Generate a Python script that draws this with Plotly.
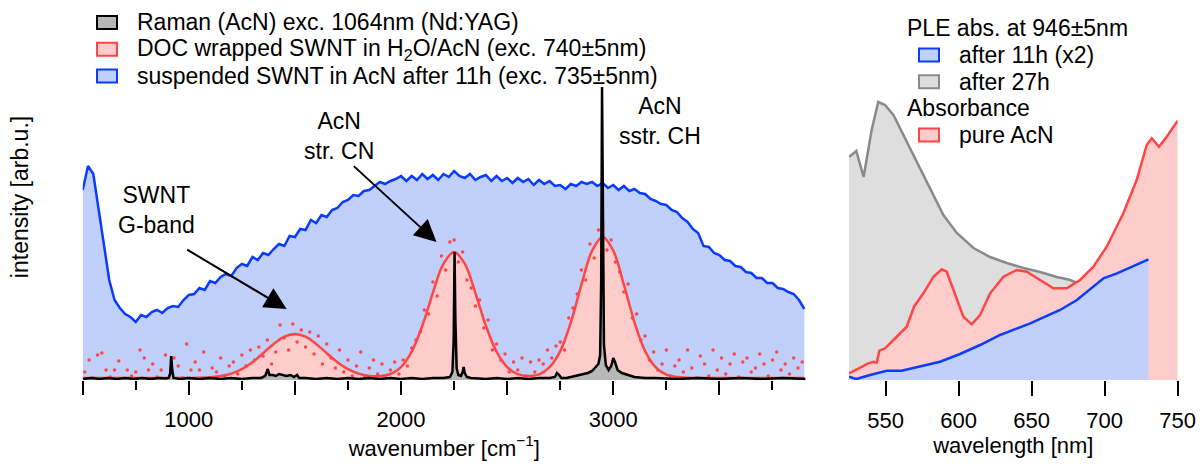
import numpy as np
import plotly.graph_objects as go

# ---------------- left panel: Raman / PL vs wavenumber ----------------
# suspended SWNT in AcN after 11h (exc. 735 nm), 25 cm-1 grid
sus_wn = np.arange(500, 3901, 25)
sus_int = [190, 214, 206, 170, 135, 100, 80, 72, 66, 63, 58, 65, 63, 68, 70, 67, 72, 74, 73, 80,
           85, 86, 92, 90, 99, 97, 103, 106, 104, 112, 116, 114, 123, 120, 127, 125, 131, 136, 134, 144,
           143, 151, 150, 160, 157, 165, 163, 170, 172, 178, 180, 185, 184, 189, 190, 194, 198, 196, 199, 201,
           204, 199, 204, 200, 206, 201, 205, 200, 206, 203, 209, 204, 202, 206, 200, 203, 205, 199, 204, 199,
           202, 197, 202, 198, 201, 195, 200, 196, 199, 194, 195, 191, 196, 194, 198, 196, 198, 194, 197, 192,
           195, 190, 194, 189, 191, 187, 186, 181, 179, 176, 175, 170, 168, 162, 158, 151, 147, 134, 133, 127,
           125, 120, 119, 114, 113, 108, 107, 102, 102, 97, 97, 92, 91, 88, 86, 80, 71]

# DOC wrapped SWNT in H2O/AcN (exc. 740 nm): fitted curve, 50 cm-1 grid
fit_wn = np.arange(500, 3901, 50)
fit_int = [2, 2, 2, 2, 2, 2, 2, 2, 2, 2,
           2, 2.3, 2.8, 3.9, 6.4, 10.9, 17.8, 26.8, 36.1, 43.3,
           46, 43.3, 36.1, 26.8, 17.8, 10.9, 6.4, 4.1, 3.8, 6.0,
           12.9, 28.3, 54.2, 87.2, 116.3, 128, 116.3, 87.2, 54.2, 28.3,
           12.9, 5.9, 3.9, 5.6, 12.9, 28.9, 57.7, 95.3, 129.2, 143,
           129.2, 95.3, 57.7, 28.9, 12.7, 5.4, 2.9, 2.2, 2, 2,
           2, 2, 2, 2, 2, 2, 2, 2, 2]

# raw points of the same measurement, 20 cm-1 grid
pts_wn = np.arange(510, 3891, 20)
pts_int = [8, 20, 2, 25, 27, 10, 3, 10, 19, 1,
           10, 4, 8, 30, 22, 10, 16, 3, 10, 25,
           5, 22, 14, 2, 36, 10, 18, 10, 28, 2,
           12, 8, 22, 4, 14, 18, 6, 25, 14, 30,
           20, 33, 24, 40, 16, 28, 55, 42, 30, 56,
           38, 50, 33, 48, 26, 44, 16, 36, 22, 12,
           30, 8, 20, 4, 14, 28, 3, 12, 20, 6,
           16, 2, 10, 18, 6, 20, 14, 32, 40, 48,
           70, 66, 98, 84, 124, 110, 138, 140, 118, 128,
           100, 92, 74, 80, 52, 60, 30, 36, 20, 26,
           8, 18, 10, 22, 4, 18, 8, 20, 16, 30,
           22, 34, 38, 30, 62, 72, 86, 110, 100, 136,
           122, 150, 156, 130, 140, 118, 108, 88, 96, 62,
           66, 40, 44, 20, 28, 10, 16, 30, 4, 14,
           20, 8, 30, 12, 2, 24, 16, 4, 30, 10,
           22, 6, 16, 26, 3, 18, 22, 8, 12, 26,
           16, 4, 20, 28, 10, 16, 6, 22, 12, 18]

# Raman (AcN) exc. 1064 nm
ram_wn = [500, 540, 580, 620, 660, 700, 740, 780, 820, 860, 890, 905, 912, 917, 922, 928, 960,
          1000, 1050, 1100, 1150, 1200, 1250, 1300, 1340, 1360, 1372, 1380, 1395, 1410, 1425, 1440,
          1460, 1480, 1495, 1510, 1520, 1550, 1600, 1650, 1700, 1750, 1800, 1850, 1900, 1950, 2000,
          2050, 2100, 2150, 2200, 2230, 2242, 2248, 2252, 2256, 2262, 2270, 2282, 2290, 2295, 2300,
          2310, 2330, 2400, 2450, 2500, 2550, 2600, 2650, 2700, 2725, 2735, 2745, 2755, 2780, 2800,
          2830, 2860, 2880, 2900, 2915, 2930, 2938, 2943, 2947, 2951, 2956, 2965, 2978, 2990, 3000,
          3008, 3020, 3040, 3070, 3100, 3150, 3200, 3300, 3400, 3500, 3600, 3700, 3800, 3905]
ram_int = [1, 2, 1, 2, 1, 2, 1, 2, 1, 2, 1.5, 2, 6, 24, 10, 2, 1,
           2, 1, 2, 1, 2, 1, 2, 2, 4, 11, 5, 5, 4, 6, 5,
           4, 5, 3, 5, 2, 2, 1, 2, 1, 2, 1, 2, 1, 2, 1,
           2, 1, 2, 2, 3, 8, 40, 128, 60, 12, 5, 4, 8, 13, 7,
           3, 2, 1, 2, 1, 2, 1, 2, 2, 3, 7, 5, 2, 2, 3,
           4, 6, 7, 9, 12, 16, 25, 100, 293, 120, 35, 15, 10, 14, 22,
           18, 10, 7, 5, 3, 2, 2, 1, 2, 1, 2, 1, 2, 1]

# ---------------- right panel: PLE / absorbance vs wavelength ----------------
ple27_wl = [525, 530, 535, 540.5, 545, 549.7, 555.4, 564.5, 575.9, 589.6, 598.8, 610.2, 621.6,
            633, 644.4, 655.8, 667.3, 676.4, 681, 690]
ple27_int = [223, 229, 203, 250, 278, 275, 265, 238, 205, 165, 147, 132, 123,
             117, 112, 108, 103, 100, 97, 94]

abs_wl = [525, 532.5, 538.2, 541.6, 544, 545.8, 549.7, 555.4, 564.5, 569.5, 575.9, 582.8, 588.5,
          591.9, 597.6, 603.3, 609, 614.7, 621.6, 630.7, 639.8, 646.7, 655.8, 664.9, 674, 683.2,
          692.3, 701.4, 712.8, 721.9, 728.8, 732.2, 737.2, 742.5, 750]
abs_int = [6.7, 12.7, 16.7, 18.3, 17.3, 29.3, 31.7, 40, 53.3, 73.3, 86.7, 103.3, 110.7,
           108.3, 86.7, 63.3, 55.7, 65, 86.7, 103.3, 110, 108.3, 100, 91.7, 91.7, 100,
           113.3, 133.3, 166.7, 200, 235, 241.7, 233.3, 243.3, 259.3]

ple11_wl = [525, 530, 539.4, 550.8, 561, 573.6, 587.3, 601, 614.7, 628.4, 649, 669.5, 681, 699.2,
            708.4, 730]
ple11_int = [3.3, 1, 5, 9.3, 9.3, 13.3, 18.3, 26, 35, 45, 56.7, 70, 80, 101.7, 106.7, 120.7]

BLUE, BLUE_F = "#0a3cff", "#c0d0fa"
RED, RED_F = "#ff4545", "#ffcccc"
GRAY, GRAY_F = "#8a8a8a", "#dedede"
BLACK, RAM_F = "#000000", "#b8b8b8"
FONT = "Liberation Sans, Arial, sans-serif"
W, H = 1200, 471

fig = go.Figure()

fig.add_trace(go.Scatter(x=sus_wn, y=sus_int, fill="tozeroy", fillcolor=BLUE_F,
                         line=dict(color=BLUE, width=2.5), mode="lines"))
fig.add_trace(go.Scatter(x=fit_wn, y=fit_int, fill="tozeroy", fillcolor=RED_F,
                         line=dict(color=RED, width=2.5, shape="spline"), mode="lines"))
fig.add_trace(go.Scatter(x=pts_wn, y=pts_int, mode="markers",
                         marker=dict(color=RED, size=3.5)))
fig.add_trace(go.Scatter(x=ram_wn, y=ram_int, fill="tozeroy", fillcolor=RAM_F,
                         line=dict(color=BLACK, width=2.5), mode="lines"))

fig.add_trace(go.Scatter(x=ple27_wl, y=ple27_int, fill="tozeroy", fillcolor=GRAY_F,
                         line=dict(color=GRAY, width=2.5), mode="lines", xaxis="x2", yaxis="y2"))
fig.add_trace(go.Scatter(x=abs_wl, y=abs_int, fill="tozeroy", fillcolor=RED_F,
                         line=dict(color=RED, width=2.5), mode="lines", xaxis="x2", yaxis="y2"))
fig.add_trace(go.Scatter(x=ple11_wl, y=ple11_int, fill="tozeroy", fillcolor=BLUE_F,
                         line=dict(color=BLUE, width=2.5), mode="lines", xaxis="x2", yaxis="y2"))


def px(x):
    return x / W


def py(y):
    return 1 - y / H


# hand-made legends (boxes + text), positions in pixels
legend_rows = [
    (97, 22.5, BLACK, RAM_F, "Raman (AcN) exc. 1064nm (Nd:YAG)"),
    (97, 49.3, RED, RED_F, "DOC wrapped SWNT in H<sub>2</sub>O/AcN (exc. 740±5nm)"),
    (97, 76, BLUE, BLUE_F, "suspended SWNT in AcN after 11h (exc. 735±5nm)"),
    (919, 55, BLUE, BLUE_F, "after 11h (x2)"),
    (919, 81.7, GRAY, GRAY_F, "after 27h"),
    (919, 135, RED, RED_F, "pure AcN"),
]
shapes = []
annotations = []
for x0, yc, lc, fc, label in legend_rows:
    shapes.append(dict(type="rect", xref="paper", yref="paper",
                       x0=px(x0), x1=px(x0 + 20), y0=py(yc - 6.5), y1=py(yc + 6.5),
                       line=dict(color=lc, width=2), fillcolor=fc))
    annotations.append(dict(text=label, xref="paper", yref="paper", x=px(x0 + 38), y=py(yc),
                            xanchor="left", yanchor="middle", showarrow=False))
for yc, label in [(28.3, "PLE abs. at 946±5nm"), (108.3, "Absorbance")]:
    annotations.append(dict(text=label, xref="paper", yref="paper", x=px(905), y=py(yc),
                            xanchor="left", yanchor="middle", showarrow=False))

# peak labels and arrows
annotations += [
    dict(text="SWNT<br>G-band", x=850, y=170, xref="x", yref="y", showarrow=False),
    dict(text="AcN<br>str. CN", x=1708, y=244, xref="x", yref="y", showarrow=False),
    dict(text="AcN<br>sstr. CH", x=3221, y=259, xref="x", yref="y", showarrow=False),
    dict(text=" ", x=1461, y=71, ax=971, ay=133, xref="x", yref="y", axref="x", ayref="y",
         showarrow=True, arrowhead=2, arrowsize=2.2, arrowwidth=2, arrowcolor="black"),
    dict(text=" ", x=2167, y=138, ax=1756, ay=218, xref="x", yref="y", axref="x", ayref="y",
         showarrow=True, arrowhead=2, arrowsize=2.2, arrowwidth=2, arrowcolor="black"),
]

ydom = [91 / H, 457 / H]
tick_common = dict(ticks="outside", tickcolor="black", tickwidth=1.8, showline=False,
                   showgrid=False, zeroline=False, tickfont=dict(size=22, color="black"),
                   automargin=False, ticklabelstandoff=6)

fig.update_layout(
    width=W, height=H,
    margin=dict(l=0, r=0, t=0, b=0),
    paper_bgcolor="white", plot_bgcolor="white",
    font=dict(family=FONT, size=23, color="black"),
    showlegend=False,
    shapes=shapes,
    annotations=annotations,
    xaxis=dict(domain=[82.7 / W, 806 / W], range=[500, 3908], anchor="y",
               tickmode="array", tickvals=[500, 1000, 1500, 2000, 2500, 3000, 3500],
               ticktext=["", "1000", "", "2000", "", "3000", ""], ticklen=14,
               minor=dict(dtick=250, tick0=0, ticks="outside", ticklen=9, tickwidth=1.8,
                          tickcolor="black", showgrid=False),
               title=dict(text="wavenumber [cm<sup>−1</sup>]", standoff=3,
                          font=dict(size=22)),
               **tick_common),
    yaxis=dict(domain=ydom, range=[0, 366], showticklabels=False, ticks="",
               showgrid=False, zeroline=False, showline=False, automargin=False,
               title=dict(text="intensity [arb.u.]", standoff=46, font=dict(size=23))),
    xaxis2=dict(domain=[849 / W, 1177.7 / W], range=[525, 750], anchor="y2",
                tickmode="array", tickvals=[550, 600, 650, 700, 750], ticklen=15,
                title=dict(text="wavelength [nm]", standoff=3, font=dict(size=22)),
                **tick_common),
    yaxis2=dict(domain=ydom, range=[0, 366], anchor="x2", showticklabels=False, ticks="",
                showgrid=False, zeroline=False, showline=False),
)

# the page's default body margin would shift the figure by 8px
fig.write_html("out.html", config={"displayModeBar": False},
               post_script="document.body.style.margin='0';")
